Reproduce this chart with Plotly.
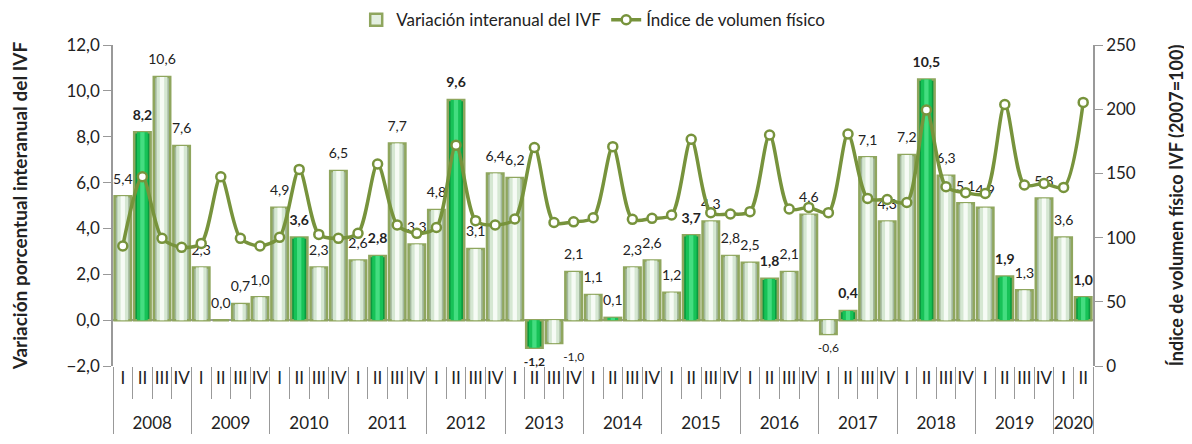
import plotly.graph_objects as go

# datos trimestrales 2008-I a 2020-II
years = ["2008", "2009", "2010", "2011", "2012", "2013", "2014",
         "2015", "2016", "2017", "2018", "2019", "2020"]
quarters = ["I", "II", "III", "IV"]
quarters_per_year = [4, 4, 4, 4, 4, 4, 4, 4, 4, 4, 4, 4, 2]

variacion = [5.4, 8.2, 10.6, 7.6, 2.3, 0.0, 0.7, 1.0,
             4.9, 3.6, 2.3, 6.5, 2.6, 2.8, 7.7, 3.3,
             4.8, 9.6, 3.1, 6.4, 6.2, -1.2, -1.0, 2.1,
             1.1, 0.1, 2.3, 2.6, 1.2, 3.7, 4.3, 2.8,
             2.5, 1.8, 2.1, 4.6, -0.6, 0.4, 7.1, 4.3,
             7.2, 10.5, 6.3, 5.1, 4.9, 1.9, 1.3, 5.3,
             3.6, 1.0]

ivf = [93.5, 147.4, 99.4, 92.4, 95.5, 147.4, 99.4, 93.5,
       100.2, 153.1, 102.5, 99.4, 103.3, 157.3, 109.8, 103.3,
       107.9, 172.0, 113.2, 109.8, 114.5, 170.2, 111.8, 112.3,
       115.5, 170.8, 114.2, 115.0, 117.6, 176.5, 119.4, 118.4,
       120.2, 179.9, 122.3, 123.5, 119.4, 180.7, 130.5, 129.7,
       127.3, 199.4, 139.6, 135.0, 134.4, 203.7, 141.0, 142.2,
       139.1, 205.3]

x_year = []
x_q = []
for y, n in zip(years, quarters_per_year):
    x_year += [y] * n
    x_q += quarters[:n]
# la linea vacia extra baja los rotulos de los anios
x = [x_year, [q + "<br> " for q in x_q]]

is_q2 = [q == "II" for q in x_q]


def fmt(v, bold):
    s = f"{v:.1f}".replace(".", ",")
    return f"<b>{s}</b>" if bold else s


labels = [fmt(v, b and abs(v) > 0.2) for v, b in zip(variacion, is_q2)]

# posicion de etiqueta: arriba si positivo, abajo si negativo
label_pos = []
for i, v in enumerate(variacion):
    if v >= 0:
        label_pos.append("top center")
    elif i > 0 and variacion[i - 1] < 0:
        label_pos.append("bottom right")
    else:
        label_pos.append("bottom center")
label_size = [12 if v < 0 else 14 for v in variacion]

OLIVE = "#77933c"
FONT = "Lato"

fig = go.Figure()

# barras tipo cilindro: base + dos capas centrales mas claras
fig.add_bar(
    x=x, y=variacion, width=0.84,
    marker=dict(color=["#0b9a3f" if b else "#a3b89e" for b in is_q2],
                line=dict(color="#8fa65e", width=2.5)),
    showlegend=False, hoverinfo="skip",
)
fig.add_bar(
    x=x, y=variacion, width=0.55,
    marker=dict(color=["#17c257" if b else "#d5e7d2" for b in is_q2], line_width=0),
    showlegend=False, hoverinfo="skip",
)
fig.add_bar(
    x=x, y=variacion, width=0.22,
    marker=dict(color=["#44dd80" if b else "#f6fbf5" for b in is_q2], line_width=0),
    showlegend=False, hoverinfo="skip",
)
# entrada de leyenda para las barras
fig.add_bar(
    x=[x[0][:1], x[1][:1]], y=[None], width=0.84,
    marker=dict(color="#e3efe0", line=dict(color="#8fa65e", width=2.5)),
    name="Variación interanual del IVF",
)

# etiquetas de datos (marcador invisible para separar el texto de la barra)
fig.add_scatter(
    x=x, y=variacion, mode="text+markers", text=labels,
    textposition=label_pos,
    marker=dict(size=13, color="rgba(0,0,0,0)"),
    textfont=dict(size=label_size, color="#222222", family=FONT),
    showlegend=False, hoverinfo="skip", cliponaxis=False,
)

fig.add_scatter(
    x=x, y=ivf, yaxis="y2", mode="lines+markers",
    line=dict(color=OLIVE, width=3.5, shape="spline", smoothing=0.8),
    marker=dict(color="white", size=9, line=dict(color=OLIVE, width=2.5)),
    name="Índice de volumen físico",
)

# la pagina deja 8 px de margen, por eso 1184x436
fig.update_layout(
    width=1184, height=436,
    margin=dict(l=105, r=99, t=37, b=78, autoexpand=False),
    barmode="overlay",
    separators=",.",
    plot_bgcolor="white", paper_bgcolor="white",
    font=dict(family=FONT, size=14, color="#222222"),
    legend=dict(orientation="h", x=0.49, xanchor="center",
                yref="container", y=0.972, yanchor="middle",
                font=dict(size=17), traceorder="normal"),
    xaxis=dict(
        type="multicategory",
        range=[-0.5, len(variacion) - 0.5],
        tickmode="linear", tick0=0, dtick=1, tickangle=0,
        showline=False,
        ticks="outside", ticklen=32, tickcolor="#999999",
        showdividers=True, dividercolor="#999999", dividerwidth=1,
        tickfont=dict(size=17, family=FONT),
    ),
    yaxis=dict(
        range=[-2, 12], dtick=2, tickformat=".1f",
        showgrid=False, showline=True, linecolor="#999999", linewidth=1.5,
        ticks="outside", ticklen=8, tickcolor="#999999",
        zeroline=True, zerolinecolor="#999999", zerolinewidth=2,
        tickfont=dict(size=17),
        title=dict(text="<b>Variación porcentual interanual del IVF</b>",
                   font=dict(size=19), standoff=36),
    ),
    yaxis2=dict(
        overlaying="y", side="right",
        range=[0, 250], dtick=50,
        showgrid=False, showline=True, linecolor="#999999", linewidth=1.5,
        ticks="outside", ticklen=8, tickcolor="#999999",
        zeroline=False,
        tickfont=dict(size=17),
        title=dict(text="<b>Índice de volumen físico IVF (2007=100)</b>",
                   font=dict(size=18), standoff=36),
    ),
)

fig.write_html("out.html")
